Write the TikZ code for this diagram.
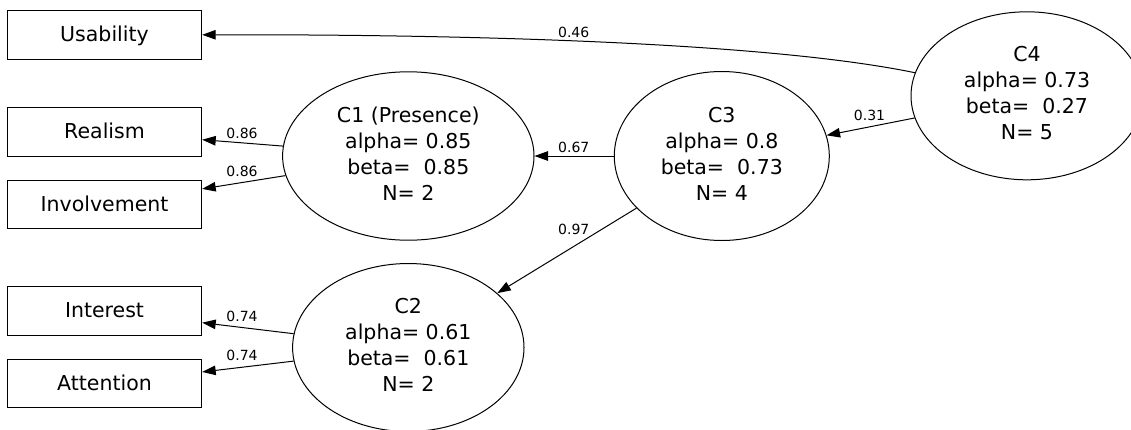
\documentclass[tikz,border=0pt]{standalone}
\usepackage{fontspec}
\setmainfont{DejaVu Sans}
\usetikzlibrary{shapes.geometric,arrows.meta}
\begin{document}
\begin{tikzpicture}[x=1pt,y=-1pt,
  box/.style={draw, line width=1pt, rectangle, minimum width=194.4pt, minimum height=48.5pt, inner sep=0pt, text height=13.4pt, text depth=0pt, font=\fontsize{20.5}{26}\selectfont},
  fac/.style={draw, line width=1pt, ellipse, inner sep=0pt, align=center, font=\fontsize{20.5}{26}\selectfont},
  lbl/.style={inner sep=0pt, font=\fontsize{14}{16}\selectfont},
  edge/.style={draw, line width=1pt, -{Triangle[length=13.5pt,width=9.5pt]}}
]
\useasboundingbox (0,0) rectangle (1131,429);
% boxes
\node[box] (usab) at (104.5,35) {Usability};
\node[box] (realism) at (104.5,132) {Realism};
\node[box] (invol) at (104.5,204.4) {Involvement};
\node[box] (inter) at (104.5,311) {Interest};
\node[box] (atten) at (104.5,383.5) {Attention};
% factors
\node[fac, minimum width=251.4pt, minimum height=168.4pt] (c1) at (408.3,156) {C1 (Presence)\\alpha= 0.85\\beta= \ 0.85\\N= 2\rule[-5pt]{0pt}{5pt}};
\node[fac, minimum width=215pt, minimum height=169pt] (c3) at (721.8,156) {C3\\alpha= 0.8\\beta= \ 0.73\\N= 4\rule[-5pt]{0pt}{5pt}};
\node[fac, minimum width=232pt, minimum height=168pt] (c4) at (1027,95.8) {C4\\alpha= 0.73\\beta= \ 0.27\\N= 5\rule[-5pt]{0pt}{5pt}};
\node[fac, minimum width=231.4pt, minimum height=168pt] (c2) at (408.3,347.5) {C2\\alpha= 0.61\\beta= \ 0.61\\N= 2\rule[-5pt]{0pt}{5pt}};
% edges
\draw[edge] (c4) .. controls (763,41.4) and (451.7,34.3) .. (usab);
\draw[edge] (c4) -- (c3);
\draw[edge] (c3) -- (c1);
\draw[edge] (c3) -- (c2);
\draw[edge] (c1) -- (realism);
\draw[edge] (c1) -- (invol);
\draw[edge] (c2) -- (inter);
\draw[edge] (c2) -- (atten);
% labels
\node[lbl] (l1) at (573.7,32) {0.46};
\node[lbl] (l2) at (869.5,115.5) {0.31};
\node[lbl] (l3) at (573.8,147) {0.67};
\node[lbl] (l4) at (573.8,229.7) {0.97};
\node[lbl] (l5) at (242,133) {0.86};
\node[lbl] (l6) at (242,171) {0.86};
\node[lbl] (l7) at (242,316) {0.74};
\node[lbl] (l8) at (242,355) {0.74};
\end{tikzpicture}
\end{document}
